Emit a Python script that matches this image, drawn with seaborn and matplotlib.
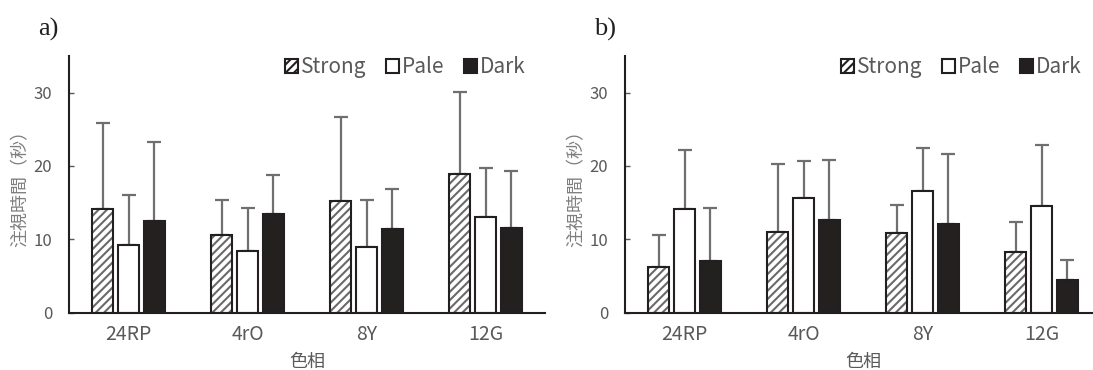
import numpy as np
import pandas as pd
import matplotlib
matplotlib.use('Agg')
import matplotlib.pyplot as plt
import seaborn as sns
from matplotlib.patches import Patch, Rectangle

# 色相カテゴリと条件
hues = ['24RP', '4rO', '8Y', '12G']
conds = ['Strong', 'Pale', 'Dark']

# a) 平均値と上側エラーバー(平均+SD)
a_strong = [14.1, 10.65, 15.15, 18.95]
a_pale = [9.25, 8.35, 8.9, 13.1]
a_dark = [12.5, 13.5, 11.4, 11.55]
a_strong_top = [25.8, 15.4, 26.6, 30.1]
a_pale_top = [16.1, 14.3, 15.4, 19.7]
a_dark_top = [23.3, 18.7, 16.9, 19.3]

# b)
b_strong = [6.2, 11.0, 10.9, 8.25]
b_pale = [14.15, 15.65, 16.6, 14.55]
b_dark = [7.1, 12.6, 12.1, 4.4]
b_strong_top = [10.6, 20.2, 14.7, 12.4]
b_pale_top = [22.2, 20.7, 22.4, 22.8]
b_dark_top = [14.3, 20.8, 21.6, 7.2]

yticks = [0, 10, 20, 30]

DARK = '#231f20'
GRAY_TXT = '#595959'
ERR = '#6f6f6f'


def make_df(strong, pale, dark, strong_top, pale_top, dark_top):
    rows = []
    for c, vals, tops in zip(conds, [strong, pale, dark], [strong_top, pale_top, dark_top]):
        for h, v, t in zip(hues, vals, tops):
            rows.append({'色相': h, '条件': c, '値': v, '上限': t})
    return pd.DataFrame(rows)


sns.set_style('white')
plt.rcParams['font.family'] = ['Noto Sans CJK JP', 'DejaVu Sans']
plt.rcParams['hatch.linewidth'] = 1.5
plt.rcParams['hatch.color'] = '#6a6a6a'

fig = plt.figure(figsize=(10.93, 3.70), dpi=100)
W, H = 1093, 370

panels = [
    ('a)', 69, make_df(a_strong, a_pale, a_dark, a_strong_top, a_pale_top, a_dark_top)),
    ('b)', 625, make_df(b_strong, b_pale, b_dark, b_strong_top, b_pale_top, b_dark_top)),
]

for tag, left_px, df in panels:
    ax = fig.add_axes([left_px / W, (H - 312.7) / H, 476 / W, 256.9 / H])
    sns.barplot(data=df, x='色相', y='値', hue='条件', order=hues, hue_order=conds,
                palette={'Strong': 'white', 'Pale': 'white', 'Dark': DARK},
                width=0.655, gap=0.19, edgecolor=DARK, linewidth=1.5,
                errorbar=None, legend=False, ax=ax)

    # 各条件のバーにエラーバーを付ける (下側はバーの後ろに隠れる)
    for i, c in enumerate(conds):
        cont = ax.containers[i]
        sub = df[df['条件'] == c].set_index('色相').loc[hues]
        xs = [p.get_x() + p.get_width() / 2 for p in cont.patches]
        ys = sub['値'].values
        up = sub['上限'].values - ys
        ax.errorbar(xs, ys, yerr=[np.zeros_like(up), up], fmt='none',
                    ecolor=ERR, elinewidth=1.6, capsize=5, capthick=1.6, zorder=0.5)
        if c == 'Strong':
            for p in cont.patches:
                p.set_hatch('////')
                p.set_edgecolor('#6a6a6a')
                p.set_linewidth(0)
                ax.add_patch(Rectangle((p.get_x(), p.get_y()), p.get_width(), p.get_height(),
                                       fill=False, edgecolor=DARK, linewidth=1.5, zorder=3))

    ax.set_ylim(0, 35)
    ax.set_yticks(yticks)
    ax.set_xlim(-0.5, 3.5)
    for s in ['top', 'right']:
        ax.spines[s].set_visible(False)
    for s in ['left', 'bottom']:
        ax.spines[s].set_color(DARK)
        ax.spines[s].set_linewidth(1.5)
    ax.tick_params(axis='y', direction='in', length=3.6, width=1, color=GRAY_TXT,
                   labelsize=12, labelcolor=GRAY_TXT, pad=12, left=True)
    ax.tick_params(axis='x', length=0, labelsize=14, labelcolor=GRAY_TXT, pad=8)
    ax.set_xlabel('色相', fontsize=13, color=GRAY_TXT, labelpad=6)
    ax.set_ylabel('注視時間（秒）', fontsize=13, color='#7f7f7f', labelpad=3)

    handles = [Patch(facecolor='white', edgecolor=DARK, hatch='////', linewidth=1.5),
               Patch(facecolor='white', edgecolor=DARK, linewidth=1.5),
               Patch(facecolor=DARK, edgecolor=DARK, linewidth=1.5)]
    ax.legend(handles, conds, loc='center right', bbox_to_anchor=(0.96, 0.956),
              ncol=3, frameon=False, fontsize=15, handlelength=0.65, handleheight=0.65,
              handletextpad=0.15, columnspacing=0.9, borderaxespad=0, borderpad=0,
              labelcolor=GRAY_TXT)

    fig.text((left_px - 31) / W, 1 - 36 / H, tag, family=['Liberation Serif', 'DejaVu Serif'],
             fontsize=19, color='#231f20', va='baseline', ha='left')

fig.savefig('out.png', dpi=100)
